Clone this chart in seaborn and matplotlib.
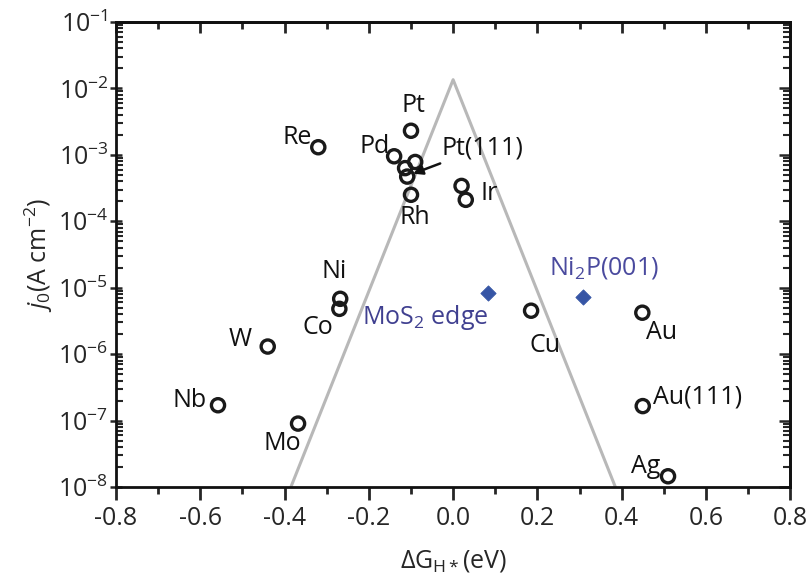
import matplotlib
matplotlib.use("Agg")
import matplotlib.pyplot as plt
import seaborn as sns
import pandas as pd
import numpy as np
from matplotlib.ticker import LogLocator, MultipleLocator, FuncFormatter

# metais (circulos abertos)
metais = ["Pt", "Re", "Pd", "Pt(111)", "Pt(111)b", "Pt(111)c", "Rh", "Ir", "Ir2",
          "Ni", "Co", "W", "Nb", "Mo", "Cu", "Au", "Au(111)", "Ag"]
dg_metais = [-0.10, -0.32, -0.14, -0.09, -0.114, -0.109, -0.10, 0.02, 0.03,
             -0.268, -0.27, -0.44, -0.558, -0.368, 0.185, 0.449, 0.45, 0.51]
j0_metais = [2.3e-3, 1.3e-3, 9.5e-4, 7.8e-4, 6.3e-4, 4.7e-4, 2.5e-4, 3.4e-4, 2.1e-4,
             6.8e-6, 4.8e-6, 1.3e-6, 1.7e-7, 9e-8, 4.5e-6, 4.2e-6, 1.65e-7, 1.45e-8]

# sulfetos / fosfetos (losangos azuis)
materiais = ["MoS2 edge", "Ni2P(001)"]
dg_materiais = [0.083, 0.309]
j0_materiais = [8.3e-6, 7.2e-6]

# curva vulcao
dg_vulcao = [-0.385, 0.0, 0.385]
j0_vulcao = [1e-8, 1.35e-2, 1e-8]

# rotulos: (texto, indice do ponto, deslocamento em pixels)
rotulos = [("Pt", 0, (2, 25)), ("Re", 1, (-21, 10)), ("Pd", 2, (-20, 10)),
           ("Rh", 6, (4, -23)), ("Ir", 7, (28, -8)), ("Ni", 9, (-6, 27)),
           ("Co", 10, (-21, -19)), ("W", 11, (-28, 7)), ("Nb", 12, (-28, 5)),
           ("Mo", 13, (-16, -20)), ("Cu", 14, (14, -35)), ("Au", 15, (19, -20)),
           ("Au(111)", 16, (55, 9)), ("Ag", 17, (-22, 10))]

sns.set_style("ticks")
plt.rcParams["font.family"] = ["Open Sans", "DejaVu Sans"]
plt.rcParams["mathtext.fontset"] = "custom"
plt.rcParams["mathtext.rm"] = "Open Sans"
plt.rcParams["mathtext.it"] = "Open Sans:italic"

fig, ax = plt.subplots(figsize=(8.08, 5.77), dpi=100)
fig.subplots_adjust(left=0.1436, right=0.978, top=0.962, bottom=0.156)

df_v = pd.DataFrame({"dg": dg_vulcao, "j0": j0_vulcao})
sns.lineplot(data=df_v, x="dg", y="j0", color="#b8b8b8", lw=2.2, ax=ax, sort=False)

df_m = pd.DataFrame({"dg": dg_metais, "j0": j0_metais})
sns.scatterplot(data=df_m, x="dg", y="j0", marker="o", s=90, facecolor="none",
                edgecolor="#1a1a1a", linewidth=2.4, ax=ax, zorder=3)

df_s = pd.DataFrame({"dg": dg_materiais, "j0": j0_materiais})
sns.scatterplot(data=df_s, x="dg", y="j0", marker="D", s=60, color="#3655a5",
                edgecolor="#3655a5", ax=ax, zorder=3)

ax.set_yscale("log")
ax.set_xlim(-0.8, 0.8)
ax.set_ylim(1e-8, 1e-1)

fs = 18
for txt, i, off in rotulos:
    ax.annotate(txt, (dg_metais[i], j0_metais[i]), xytext=off, textcoords="offset pixels",
                ha="center", va="center", fontsize=fs, color="#111111")

ax.annotate("Pt(111)", (-0.095, 5.2e-4), xytext=(28, 26), textcoords="offset pixels",
            ha="left", va="center", fontsize=fs, color="#111111",
            arrowprops=dict(arrowstyle="-|>", color="#111111", lw=1.8, shrinkA=0, shrinkB=0,
                            mutation_scale=14))

ax.annotate(r"MoS$_2$ edge", (dg_materiais[0], j0_materiais[0]), xytext=(-63, -24),
            textcoords="offset pixels", ha="center", va="center", fontsize=fs, color="#404090")
ax.annotate(r"Ni$_2$P(001)", (dg_materiais[1], j0_materiais[1]), xytext=(21, 29),
            textcoords="offset pixels", ha="center", va="center", fontsize=fs, color="#4a4a9e")

ax.set_xlabel(r"$\Delta$G$_{\mathrm{H*}}$(eV)", fontsize=fs, labelpad=12)
ax.set_ylabel(r"$j_0$(A cm$^{-2}$)", fontsize=fs, labelpad=2)

ax.xaxis.set_major_locator(MultipleLocator(0.2))
ax.xaxis.set_minor_locator(MultipleLocator(0.1))
ax.xaxis.set_major_formatter(FuncFormatter(lambda v, p: f"{v:.1f}"))
ax.yaxis.set_major_locator(LogLocator(base=10, numticks=12))
ax.yaxis.set_minor_locator(LogLocator(base=10, subs=np.arange(2, 10), numticks=12))
ax.yaxis.set_major_formatter(FuncFormatter(lambda v, p: r"10$^{%d}$" % round(np.log10(v))))

ax.tick_params(axis="x", which="major", direction="out", length=9, width=2, labelsize=fs, pad=5)
ax.tick_params(axis="x", which="minor", direction="out", length=5, width=2)
ax.tick_params(axis="y", which="major", direction="inout", length=9, width=1.8, labelsize=fs, pad=1)
ax.tick_params(axis="y", which="minor", direction="in", length=5, width=1.5)

for s in ax.spines.values():
    s.set_linewidth(2)
    s.set_color("#111111")

# ticks internos no topo e na direita
topo = ax.secondary_xaxis("top")
topo.xaxis.set_major_locator(MultipleLocator(0.2))
topo.xaxis.set_minor_locator(MultipleLocator(0.1))
topo.tick_params(which="major", direction="in", length=8, width=2, labeltop=False)
topo.tick_params(which="minor", direction="in", length=5, width=2)
direita = ax.secondary_yaxis("right")
direita.yaxis.set_major_locator(LogLocator(base=10, numticks=12))
direita.yaxis.set_minor_locator(LogLocator(base=10, subs=np.arange(2, 10), numticks=12))
direita.tick_params(which="major", direction="in", length=8, width=1.8, labelright=False)
direita.tick_params(which="minor", direction="in", length=5, width=1.5)
for sa in (topo, direita):
    for s in sa.spines.values():
        s.set_linewidth(2)
        s.set_color("#111111")

fig.savefig("out.png", dpi=100)
